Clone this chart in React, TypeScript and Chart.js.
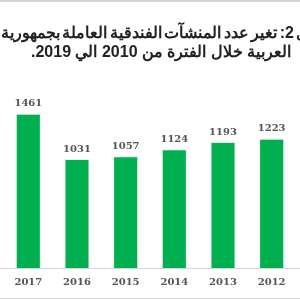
import React, { useEffect, useRef } from "react";
import { Chart, registerables } from "chart.js";

Chart.register(...registerables);

const years = ["2017", "2016", "2015", "2014", "2013", "2012"];
const establishments = [1461, 1031, 1057, 1124, 1193, 1223];
const titleLines = [
  "شكل 2: تغير عدد المنشآت الفندقية العاملة بجمهورية",
  "العربية خلال الفترة من 2010 الي 2019.",
];

const decorPlugin = {
  id: "decor",
  beforeDraw(chart: any) {
    const ctx = chart.ctx;
    ctx.save();
    ctx.fillStyle = "#ffffff";
    ctx.fillRect(0, 0, chart.width, chart.height);
    ctx.fillStyle = "#d4d4d4";
    ctx.fillRect(0, 0, chart.width, 2);
    ctx.fillRect(0, chart.height - 2, chart.width, 1);
    ctx.restore();
  },
  afterDatasetsDraw(chart: any) {
    const ctx = chart.ctx;
    const yScale = chart.scales.y;
    const y0 = Math.round(yScale.getPixelForValue(0)) + 0.5;
    ctx.save();
    ctx.strokeStyle = "#d9d9d9";
    ctx.lineWidth = 1;
    ctx.beginPath();
    ctx.moveTo(0, y0);
    ctx.lineTo(chart.width, y0);
    ctx.stroke();

    const meta = chart.getDatasetMeta(0);
    ctx.fillStyle = "#555555";
    ctx.font = "bold 10px 'DejaVu Serif'";
    ctx.textAlign = "center";
    ctx.textBaseline = "middle";
    meta.data.forEach((bar: any, i: number) => {
      ctx.fillText(String(chart.data.datasets[0].data[i]), bar.x, bar.y - 10);
    });

    ctx.fillStyle = "#222222";
    ctx.font = "bold 16px 'Liberation Sans', Arial, sans-serif";
    ctx.direction = "rtl";
    ctx.textBaseline = "alphabetic";
    ctx.textAlign = "left";
    (ctx as any).wordSpacing = "-2px";
    ctx.fillText(titleLines[0], 1, 38);
    (ctx as any).wordSpacing = "0px";
    ctx.fillText(titleLines[1], 31, 57);
    ctx.restore();
  },
};

export default function App() {
  const ref = useRef<HTMLCanvasElement>(null);
  useEffect(() => {
    if (!ref.current) return;
    const chart = new Chart(ref.current, {
      type: "bar",
      data: {
        labels: years,
        datasets: [
          {
            data: establishments,
            backgroundColor: "#00b050",
            borderColor: "rgba(0,0,0,0.08)",
            borderWidth: 1,
            categoryPercentage: 1,
            barPercentage: 0.515,
          },
        ],
      },
      options: {
        responsive: false,
        animation: false,
        layout: { padding: { top: 99, left: 4, right: 4, bottom: 4 } },
        plugins: {
          legend: { display: false },
          title: { display: false },
          tooltip: { enabled: false },
        },
        scales: {
          x: {
            grid: { display: false, drawTicks: false },
            border: { display: false },
            ticks: {
              color: "#555555",
              padding: 8,
              font: { family: "'DejaVu Serif'", weight: "bold", size: 10 },
              maxRotation: 0,
            },
          },
          y: {
            display: false,
            min: 0,
            max: 1600,
          },
        },
      },
      plugins: [decorPlugin],
    });
    return () => chart.destroy();
  }, []);
  return (
    <div style={{ position: "fixed", left: 0, top: 0, width: 300, height: 300 }}>
      <canvas ref={ref} width={300} height={300} />
    </div>
  );
}
